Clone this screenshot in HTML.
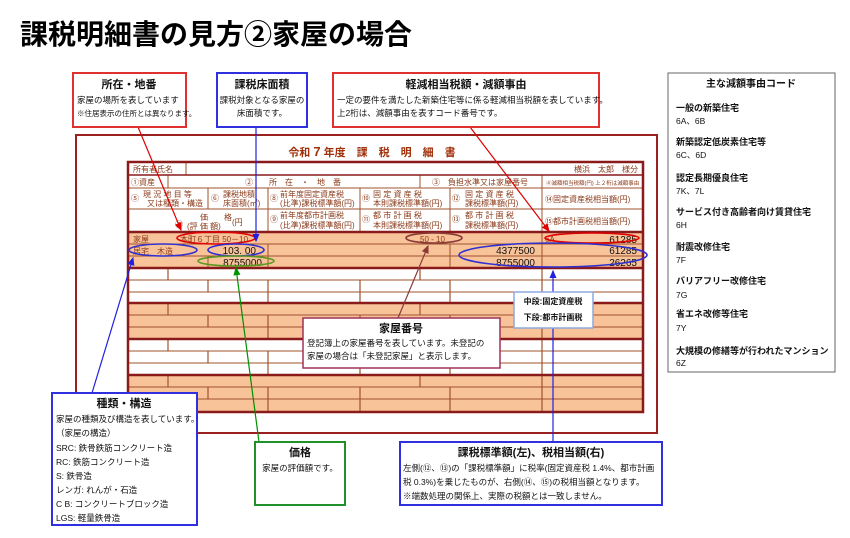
<!DOCTYPE html>
<html><head><meta charset="utf-8"><style>
html,body{margin:0;padding:0;background:#fff;}
svg{display:block;font-family:"Liberation Sans","Noto Sans CJK JP",sans-serif;}
.f{font-size:8px;fill:#8b3a1a;}
.b{font-size:8.5px;fill:#111;}
.h{font-size:11px;font-weight:bold;fill:#111;}
</style></head><body>
<svg width="850" height="538" viewBox="0 0 850 538" xmlns="http://www.w3.org/2000/svg">
<defs>
<marker id="ar" markerWidth="8" markerHeight="8" refX="6" refY="3" orient="auto"><path d="M0,0 L7,3 L0,6 z" fill="#e00000"/></marker>
<marker id="ab" markerWidth="8" markerHeight="8" refX="6" refY="3" orient="auto"><path d="M0,0 L7,3 L0,6 z" fill="#2020e0"/></marker>
<marker id="ag" markerWidth="8" markerHeight="8" refX="6" refY="3" orient="auto"><path d="M0,0 L7,3 L0,6 z" fill="#009000"/></marker>
<marker id="am" markerWidth="8" markerHeight="8" refX="6" refY="3" orient="auto"><path d="M0,0 L7,3 L0,6 z" fill="#8b3a3a"/></marker>
</defs>

<text x="20" y="44" style="font-size:28px;font-weight:bold;fill:#000">課税明細書の見方②家屋の場合</text>

<rect x="76" y="135" width="581" height="298" fill="#fff" stroke="#9b2020" stroke-width="2"/>
<text x="372" y="156" text-anchor="middle" style="font-size:11px;font-weight:bold;fill:#a0300a">令和 <tspan font-size="13">7</tspan> 年度　課　税　明　細　書</text>

<rect x="128" y="232" width="515" height="36" fill="#f9c39a"/>
<rect x="128" y="303" width="515" height="36" fill="#f9c39a"/>
<rect x="128" y="375" width="515" height="37" fill="#f9c39a"/>

<g stroke="#a0522d" stroke-width="1" fill="none">
<line x1="128" y1="188" x2="643" y2="188"/><line x1="128" y1="209" x2="643" y2="209"/>
<line x1="186" y1="162" x2="186" y2="175"/>
<line x1="168" y1="175" x2="168" y2="188"/><line x1="420" y1="175" x2="420" y2="188"/><line x1="542" y1="175" x2="542" y2="188"/>
<line x1="208" y1="188" x2="208" y2="209"/><line x1="268" y1="188" x2="268" y2="232"/><line x1="360" y1="188" x2="360" y2="232"/><line x1="450" y1="188" x2="450" y2="232"/><line x1="542" y1="188" x2="542" y2="232"/>
</g>
<g stroke="#a0522d" stroke-width="1">
<line x1="128" y1="244" x2="643" y2="244"/><line x1="128" y1="256" x2="643" y2="256"/>
<line x1="128" y1="280" x2="643" y2="280"/><line x1="128" y1="292" x2="643" y2="292"/>
<line x1="128" y1="315" x2="643" y2="315"/><line x1="128" y1="327" x2="643" y2="327"/>
<line x1="128" y1="351" x2="643" y2="351"/><line x1="128" y1="363" x2="643" y2="363"/>
<line x1="128" y1="387" x2="643" y2="387"/><line x1="128" y1="399" x2="643" y2="399"/>
<line x1="542" y1="232" x2="542" y2="268"/><line x1="450" y1="244" x2="450" y2="268"/><line x1="268" y1="244" x2="268" y2="268"/><line x1="208" y1="256" x2="208" y2="268"/>
</g>
<g stroke="#a0522d" stroke-width="1.2" fill="none">
<path d="M168 268V280M420 268V280M542 268V280M208 280V292M268 280V303M360 280V303M450 280V303M542 280V303"/>
<path d="M168 303V315M420 303V315M542 303V315M208 315V327M268 315V339M360 315V339M450 315V339M542 315V339"/>
<path d="M168 339V351M420 339V351M542 339V351M208 351V363M268 351V375M360 351V375M450 351V375M542 351V375"/>
<path d="M168 375V387M420 375V387M542 375V387M208 387V399M268 387V412M360 387V412M450 387V412M542 387V412"/>
</g>
<g stroke="#8b1a1a" stroke-width="2.5" fill="none">
<rect x="128" y="162" width="515" height="250"/>
<line x1="128" y1="175" x2="643" y2="175" stroke-width="1.5"/>
<line x1="128" y1="232" x2="643" y2="232"/><line x1="128" y1="268" x2="643" y2="268"/>
<line x1="128" y1="303" x2="643" y2="303"/><line x1="128" y1="339" x2="643" y2="339"/>
<line x1="128" y1="375" x2="643" y2="375"/>
</g>

<text class="f" x="133" y="172">所有者氏名</text>
<text class="f" x="638" y="172" text-anchor="end">横浜　太郎　様分</text>
<text class="f" x="131" y="185">①資産</text>
<text class="f" x="245" y="185">②　　所　在　・　地　番</text>
<text class="f" x="432" y="185">③　負担水準又は家屋番号</text>
<text x="546" y="185" style="font-size:5.5px;fill:#8b3a1a">④減額相当税額(円) 上２桁は減額事由</text>
<text class="f" x="131" y="201">⑤</text><text class="f" x="143" y="197">現 況 地 目 等</text><text class="f" x="147" y="206">又は種類・構造</text>
<text class="f" x="211" y="201">⑥</text><text class="f" x="223" y="197">課税地積</text><text class="f" x="223" y="206">床面積(㎡)</text>
<text class="f" x="270" y="201">⑧</text><text class="f" x="280" y="197">前年度固定資産税</text><text class="f" x="280" y="206">(比準)課税標準額(円)</text>
<text class="f" x="362" y="201">⑩</text><text class="f" x="373" y="197">固 定 資 産 税</text><text class="f" x="373" y="206">本則課税標準額(円)</text>
<text class="f" x="452" y="201">⑫</text><text class="f" x="465" y="197">固 定 資 産 税</text><text class="f" x="465" y="206">課税標準額(円)</text>
<text class="f" x="545" y="202">⑭固定資産税相当額(円)</text>
<text class="f" x="200" y="220">価　　格</text><text class="f" x="175" y="227">⑦</text><text class="f" x="187" y="229">(評 価 額)</text><text class="f" x="232" y="225">(円</text>
<text class="f" x="270" y="222">⑨</text><text class="f" x="280" y="218">前年度都市計画税</text><text class="f" x="280" y="228">(比準)課税標準額(円)</text>
<text class="f" x="362" y="222">⑪</text><text class="f" x="373" y="218">都 市 計 画 税</text><text class="f" x="373" y="228">本則課税標準額(円)</text>
<text class="f" x="452" y="222">⑬</text><text class="f" x="465" y="218">都 市 計 画 税</text><text class="f" x="465" y="228">課税標準額(円)</text>
<text class="f" x="545" y="224">⑮都市計画税相当額(円)</text>

<g style="font-size:8px;fill:#8b3a1a">
<text x="133" y="242">家屋</text><text x="180" y="242">本町６丁目 50－10</text>
<text x="420" y="242">50 - 10</text><text x="545" y="242">6A</text>
<text x="133" y="254">居宅　木造</text>
</g>
<g style="font-size:10px;fill:#111">
<text x="637" y="243" text-anchor="end">61285</text>
<text x="256" y="254" text-anchor="end">103. 00</text>
<text x="535" y="254" text-anchor="end">4377500</text>
<text x="637" y="254" text-anchor="end">61285</text>
<text x="262" y="266" text-anchor="end">8755000</text>
<text x="535" y="266" text-anchor="end">8755000</text>
<text x="637" y="266" text-anchor="end">26265</text>
</g>

<g fill="none" stroke-width="1.6">
<ellipse cx="216" cy="238" rx="39" ry="6" stroke="#e00000"/>
<ellipse cx="163" cy="250" rx="34" ry="6" stroke="#3030d0"/>
<ellipse cx="236" cy="250" rx="28" ry="6" stroke="#3030d0"/>
<ellipse cx="236" cy="261" rx="38" ry="5" stroke="#5a9a20"/>
<ellipse cx="434" cy="238" rx="28" ry="5" stroke="#8b3a3a"/>
<ellipse cx="592" cy="238" rx="47" ry="5" stroke="#e00000"/>
<ellipse cx="553" cy="255" rx="94" ry="12" stroke="#3030d0"/>
</g>

<g fill="none" stroke-width="1.2">
<line x1="138" y1="127" x2="181" y2="230" stroke="#e00000" marker-end="url(#ar)"/>
<line x1="256" y1="127" x2="256" y2="241" stroke="#2020e0" marker-end="url(#ab)"/>
<line x1="470" y1="127" x2="549" y2="231" stroke="#e00000" marker-end="url(#ar)"/>
<line x1="398" y1="318" x2="428" y2="246" stroke="#8b3a3a" marker-end="url(#am)"/>
<line x1="92" y1="393" x2="133" y2="258" stroke="#2020e0" marker-end="url(#ab)"/>
<line x1="259" y1="442" x2="236" y2="268" stroke="#009000" marker-end="url(#ag)"/>
<line x1="553" y1="292" x2="553" y2="271" stroke="#2020e0" marker-end="url(#ab)"/>
<line x1="553" y1="328" x2="553" y2="442" stroke="#2020e0"/>
</g>

<rect x="73" y="73" width="113" height="54" fill="#fff" stroke="#e03030" stroke-width="2"/>
<text x="129" y="88" text-anchor="middle" class="h">所在・地番</text>
<text x="77" y="103" class="b">家屋の場所を表しています</text>
<text x="77" y="116" style="font-size:7.5px;fill:#111">※住居表示の住所とは異なります。</text>

<rect x="217" y="73" width="90" height="54" fill="#fff" stroke="#3030e0" stroke-width="2"/>
<text x="262" y="88" text-anchor="middle" class="h">課税床面積</text>
<text x="262" y="103" text-anchor="middle" class="b">課税対象となる家屋の</text>
<text x="262" y="116" text-anchor="middle" class="b">床面積です。</text>

<rect x="333" y="73" width="266" height="54" fill="#fff" stroke="#e03030" stroke-width="2"/>
<text x="466" y="88" text-anchor="middle" class="h">軽減相当税額・減額事由</text>
<text x="337" y="103" class="b">一定の要件を満たした新築住宅等に係る軽減相当税額を表しています。</text>
<text x="337" y="116" class="b">上2桁は、減額事由を表すコード番号です。</text>

<rect x="514" y="292" width="79" height="36" fill="#fff" stroke="#8fa8e0" stroke-width="1.5"/>
<text x="553" y="304" text-anchor="middle" style="font-size:8px;font-weight:bold;fill:#111">中段:固定資産税</text>
<text x="553" y="320" text-anchor="middle" style="font-size:8px;font-weight:bold;fill:#111">下段:都市計画税</text>

<rect x="303" y="318" width="197" height="50" fill="#fff" stroke="#a0305a" stroke-width="1.5"/>
<text x="401" y="332" text-anchor="middle" class="h">家屋番号</text>
<text x="307" y="346" class="b">登記簿上の家屋番号を表しています。未登記の</text>
<text x="307" y="359" class="b">家屋の場合は「未登記家屋」と表示します。</text>

<rect x="52" y="393" width="145" height="132" fill="#fff" stroke="#3030e0" stroke-width="2"/>
<text x="124" y="407" text-anchor="middle" class="h">種類・構造</text>
<g class="b">
<text x="56" y="422">家屋の種類及び構造を表しています。</text>
<text x="56" y="436">（家屋の構造）</text>
<text x="56" y="451">SRC:  鉄骨鉄筋コンクリート造</text>
<text x="56" y="465">RC:    鉄筋コンクリート造</text>
<text x="56" y="479">S:       鉄骨造</text>
<text x="56" y="493">レンガ: れんが・石造</text>
<text x="56" y="507">C  B:  コンクリートブロック造</text>
<text x="56" y="521">LGS:  軽量鉄骨造</text>
</g>

<rect x="255" y="442" width="90" height="63" fill="#fff" stroke="#20902a" stroke-width="2"/>
<text x="300" y="456" text-anchor="middle" class="h">価格</text>
<text x="300" y="471" text-anchor="middle" class="b">家屋の評価額です。</text>

<rect x="400" y="442" width="262" height="63" fill="#fff" stroke="#3030e0" stroke-width="2"/>
<text x="531" y="456" text-anchor="middle" class="h">課税標準額(左)、税相当額(右)</text>
<text x="403" y="471" class="b">左側(⑫、⑬)の「課税標準額」に税率(固定資産税 1.4%、都市計画</text>
<text x="403" y="485" class="b">税 0.3%)を乗じたものが、右側(⑭、⑮)の税相当額となります。</text>
<text x="403" y="499" class="b">※端数処理の関係上、実際の税額とは一致しません。</text>

<rect x="668" y="73" width="167" height="299" fill="#fff" stroke="#666" stroke-width="1"/>
<text x="751" y="87" text-anchor="middle" style="font-size:10px;font-weight:bold;fill:#111">主な減額事由コード</text>
<g style="font-size:9px;font-weight:bold;fill:#111">
<text x="676" y="111">一般の新築住宅</text>
<text x="676" y="145">新築認定低炭素住宅等</text>
<text x="676" y="181">認定長期優良住宅</text>
<text x="676" y="215">サービス付き高齢者向け賃貸住宅</text>
<text x="676" y="250">耐震改修住宅</text>
<text x="676" y="284">バリアフリー改修住宅</text>
<text x="676" y="317">省エネ改修等住宅</text>
<text x="676" y="354">大規模の修繕等が行われたマンション</text>
</g>
<g style="font-size:8.5px;fill:#111">
<text x="676" y="124">6A、6B</text>
<text x="676" y="158">6C、6D</text>
<text x="676" y="194">7K、7L</text>
<text x="676" y="228">6H</text>
<text x="676" y="263">7F</text>
<text x="676" y="298">7G</text>
<text x="676" y="331">7Y</text>
<text x="676" y="366">6Z</text>
</g>
</svg>
</body></html>
